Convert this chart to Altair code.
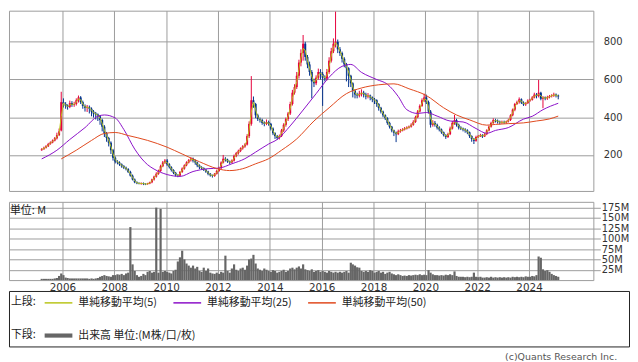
import altair as alt
import pandas as pd

# ---------------- data (monthly, 2005-03 .. 2025-02) ----------------
OPEN = [
    225, 230, 238, 246, 258, 266, 276, 288, 305, 330,
    480, 470, 460, 455, 475, 465, 470, 490, 505, 480, 460, 450,
    455, 445, 430, 420, 415, 405, 385, 350, 315, 290, 265, 225,
    185, 165, 160, 150, 140, 132, 125, 110, 90, 70, 55, 50,
    48, 50, 46, 45, 48, 55, 70, 85, 100, 115, 140, 160,
    170, 150, 135, 120, 105, 92, 90, 110, 128, 145, 160, 172,
    180, 170, 160, 145, 135, 130, 122, 112, 100, 92, 88, 100,
    115, 130, 160, 180, 175, 165, 160, 170, 195, 210, 222, 235,
    245, 255, 300, 365, 490, 470, 410, 390, 385, 370, 365, 375,
    365, 340, 315, 300, 290, 300, 330, 360, 390, 420, 470, 530,
    560, 620, 690, 740, 790, 720, 680, 640, 590, 580, 610, 640,
    630, 610, 605, 640, 700, 750, 790, 800, 760, 740, 710, 680,
    660, 620, 580, 540, 520, 515, 525, 530, 520, 510, 515, 505,
    495, 490, 470, 450, 430, 410, 395, 370, 350, 330, 318, 310,
    325, 330, 335, 340, 345, 350, 360, 375, 400, 430, 460, 490,
    505, 480, 430, 360, 370, 360, 345, 335, 320, 305, 295, 310,
    340, 370, 385, 360, 345, 340, 335, 330, 320, 300, 285, 275,
    295, 300, 305, 298, 310, 330, 350, 370, 385, 382, 376, 372,
    375, 372, 378, 385, 410, 440, 470, 480, 495, 478, 468, 475,
    488, 492, 505, 520, 512, 530, 498, 505, 500, 506, 512, 515,
    520, 515,
]
HIGH = [
    236, 244, 252, 264, 272, 282, 295, 318, 340, 535,
    500, 480, 468, 488, 485, 482, 500, 515, 512, 488, 468, 465,
    462, 452, 438, 428, 420, 412, 392, 358, 322, 296, 272, 232,
    192, 172, 166, 155, 146, 138, 130, 116, 96, 75, 60, 55,
    54, 54, 50, 52, 58, 74, 90, 108, 122, 148, 168, 178,
    178, 156, 140, 124, 110, 98, 114, 134, 150, 166, 178, 188,
    186, 176, 164, 150, 140, 134, 126, 116, 104, 96, 104, 122,
    138, 166, 200, 188, 180, 170, 176, 202, 216, 228, 240, 252,
    262, 310, 378, 618, 510, 476, 418, 398, 392, 378, 388, 382,
    370, 346, 320, 306, 308, 338, 368, 398, 428, 482, 545, 575,
    640, 705, 760, 836, 800, 730, 695, 650, 605, 622, 658, 655,
    640, 622, 656, 718, 768, 818, 960, 812, 772, 748, 718, 688,
    665, 625, 585, 548, 530, 540, 548, 540, 530, 528, 520, 510,
    502, 495, 475, 455, 435, 415, 400, 376, 354, 334, 324, 334,
    338, 342, 348, 352, 356, 368, 384, 408, 438, 468, 500, 525,
    520, 488, 438, 384, 380, 366, 352, 340, 324, 310, 318, 350,
    380, 412, 392, 366, 352, 345, 342, 336, 324, 304, 290, 302,
    306, 312, 310, 316, 336, 356, 376, 394, 392, 388, 382, 382,
    382, 382, 392, 416, 446, 476, 488, 505, 500, 484, 480, 495,
    498, 512, 530, 528, 598, 535, 512, 510, 514, 518, 522, 530,
    526, 520,
]
LOW = [
    222, 228, 234, 242, 254, 262, 272, 282, 300, 325,
    452, 445, 440, 448, 455, 455, 462, 478, 470, 445, 430, 428,
    420, 405, 398, 388, 380, 360, 325, 295, 270, 245, 205, 170,
    155, 150, 142, 132, 125, 118, 104, 85, 65, 50, 45, 44,
    42, 40, 40, 42, 45, 50, 64, 80, 95, 110, 135, 152,
    142, 128, 112, 98, 86, 82, 86, 105, 122, 140, 155, 165,
    160, 148, 135, 125, 122, 115, 105, 92, 85, 80, 84, 96,
    110, 125, 155, 165, 158, 152, 155, 165, 188, 202, 215, 228,
    238, 250, 290, 355, 450, 395, 380, 372, 360, 352, 358, 355,
    330, 305, 285, 280, 282, 295, 322, 350, 380, 412, 462, 520,
    550, 605, 670, 700, 700, 660, 620, 500, 560, 570, 600, 600,
    460, 590, 595, 630, 690, 740, 770, 740, 725, 690, 665, 590,
    560, 560, 505, 500, 500, 505, 510, 505, 495, 500, 490, 480,
    470, 455, 435, 420, 400, 385, 360, 340, 320, 300, 268, 305,
    318, 325, 330, 335, 340, 345, 355, 370, 395, 425, 455, 480,
    470, 420, 345, 350, 350, 335, 325, 312, 298, 285, 290, 305,
    335, 360, 350, 335, 332, 325, 318, 310, 290, 270, 258, 270,
    290, 295, 290, 295, 305, 325, 345, 365, 372, 366, 362, 365,
    365, 366, 372, 380, 405, 432, 465, 472, 470, 460, 460, 470,
    482, 488, 500, 500, 505, 490, 448, 490, 492, 500, 505, 508,
    505, 495,
]
CLOSE = [
    230, 238, 246, 258, 266, 276, 288, 305, 325, 480,
    470, 460, 455, 475, 465, 470, 490, 505, 480, 460, 450, 455,
    445, 430, 420, 415, 405, 385, 350, 315, 290, 265, 225, 185,
    165, 160, 150, 140, 132, 125, 110, 90, 70, 55, 50, 48,
    50, 46, 45, 48, 55, 70, 85, 100, 115, 140, 160, 170,
    150, 135, 120, 105, 92, 90, 110, 128, 145, 160, 172, 180,
    170, 160, 145, 135, 130, 122, 112, 100, 92, 88, 100, 115,
    130, 160, 180, 175, 165, 160, 170, 195, 210, 222, 235, 245,
    255, 300, 365, 490, 470, 410, 390, 385, 370, 365, 375, 365,
    340, 315, 300, 290, 300, 330, 360, 390, 420, 470, 530, 560,
    620, 690, 740, 790, 720, 680, 640, 590, 580, 610, 640, 630,
    610, 605, 640, 700, 750, 790, 800, 760, 740, 710, 680, 660,
    620, 580, 540, 520, 515, 525, 530, 520, 510, 515, 505, 495,
    490, 470, 450, 430, 410, 395, 370, 350, 330, 318, 310, 325,
    330, 335, 340, 345, 350, 360, 375, 400, 430, 460, 490, 505,
    480, 430, 360, 370, 360, 345, 335, 320, 305, 295, 310, 340,
    370, 385, 360, 345, 340, 335, 330, 320, 300, 285, 275, 295,
    300, 305, 298, 310, 330, 350, 370, 385, 382, 376, 372, 375,
    372, 378, 385, 410, 440, 470, 480, 495, 478, 468, 475, 488,
    492, 505, 520, 512, 530, 498, 505, 500, 506, 512, 515, 520,
    515, 510,
]
VOLUME = [  # million shares
    3, 3, 3, 3, 3, 3, 4, 5, 10, 16,
    12, 6, 5, 4, 4, 4, 4, 4, 4, 4, 4, 4,
    3, 4, 3, 4, 5, 8, 10, 12, 10, 9, 8, 12,
    12, 14, 13, 15, 12, 16, 18, 128, 38, 22, 12, 8,
    10, 15, 12, 20, 22, 18, 20, 175, 18, 172, 20, 22,
    20, 18, 16, 22, 25, 45, 55, 71, 50, 40, 35, 30,
    35, 28, 32, 22, 20, 30, 22, 28, 18, 16, 15, 18,
    15, 20, 18, 59, 22, 18, 28, 38, 25, 22, 28, 30,
    25, 35, 50, 52, 61, 40, 28, 25, 22, 28, 25, 22,
    20, 24, 22, 18, 20, 22, 25, 20, 22, 28, 30, 26,
    30, 33, 28, 38, 26, 24, 22, 26, 20, 22, 24, 20,
    22, 20, 18, 22, 20, 18, 20, 18, 20, 18, 20, 22,
    18, 42, 38, 35, 31, 30, 22, 20, 22, 20, 24, 22,
    18, 20, 22, 18, 20, 15, 18, 20, 16, 14, 12, 14,
    12, 10, 11, 10, 12, 11, 12, 13, 12, 14, 12, 13,
    12, 24, 18, 14, 12, 12, 11, 12, 11, 13, 12, 14,
    12, 21, 10, 8, 8, 8, 7, 8, 7, 8, 18, 8,
    7, 8, 6, 6, 7, 6, 8, 6, 7, 6, 7, 6,
    7, 6, 7, 6, 8, 7, 8, 7, 8, 7, 9, 8,
    8, 10, 9, 12, 57, 54, 26, 22, 24, 20, 15, 12,
    10, 8,
]

MA25_DATES = ["2005-03", "2005-10", "2006-04", "2006-11", "2007-05", "2007-08", "2008-01",
              "2008-05", "2008-10", "2009-04", "2009-07", "2010-01", "2010-07", "2011-01",
              "2011-08", "2012-01", "2012-07", "2013-01", "2013-06", "2013-12", "2014-04",
              "2014-10", "2015-04", "2015-10", "2016-04", "2016-10", "2017-02", "2017-07",
              "2018-02", "2018-07", "2018-12", "2019-04", "2019-09", "2020-01", "2020-06",
              "2020-12", "2021-06", "2021-12", "2022-05", "2022-09", "2023-03", "2023-10",
              "2024-02", "2024-07", "2025-02"]
MA25_VALUES = [179, 225, 282, 345, 405, 412, 396,
               335, 231, 148, 125, 96, 86, 112,
               127, 130, 153, 180, 215, 258, 282,
               354, 438, 525, 612, 670, 680, 638,
               600, 575, 510, 440, 420, 425, 406,
               380, 375, 340, 315, 330, 345, 390,
               405, 440, 474]

MA50_DATES = ["2005-12", "2006-07", "2007-02", "2007-08", "2008-01", "2008-07", "2009-04",
              "2010-01", "2010-08", "2011-04", "2011-12", "2012-06", "2012-12", "2013-06",
              "2013-12", "2014-06", "2015-01", "2015-09", "2016-04", "2016-12", "2017-07",
              "2018-03", "2018-10", "2019-05", "2020-01", "2020-09", "2021-03", "2021-09",
              "2022-05", "2022-09", "2023-03", "2023-10", "2024-04", "2024-10", "2025-02"]
MA50_VALUES = [179, 225, 277, 314, 319, 303, 277,
               241, 205, 164, 128, 117, 127, 153,
               180, 225, 285, 380, 450, 525, 555,
               572, 577, 551, 515, 450, 412, 386,
               358, 362, 366, 370, 380, 391, 406]

MA_LABELS = ["単純移動平均(5)", "単純移動平均(25)", "単純移動平均(50)"]
MA_COLORS = ["#b9c51a", "#8b10c8", "#e0481c"]
VOL_LABEL = "出来高 単位:(M株/口/枚)"
YEAR_TICKS = [2006, 2008, 2010, 2012, 2014, 2016, 2018, 2020, 2022, 2024]
PRICE_TICKS = [200, 400, 600, 800]
VOL_TICKS = [25, 50, 75, 100, 125, 150, 175]
CREDIT = "(c)Quants Research Inc."

assert len(OPEN) == len(HIGH) == len(LOW) == len(CLOSE) == len(VOLUME) == 240

dates = pd.date_range("2005-03-01", periods=240, freq="MS") + pd.Timedelta(days=14)
df = pd.DataFrame({"date": dates.strftime("%Y-%m-%d"), "open": OPEN, "high": HIGH,
                   "low": LOW, "close": CLOSE, "volume": VOLUME})

ma_df = pd.concat([
    pd.DataFrame({"date": [d + "-15" for d in MA25_DATES], "value": MA25_VALUES, "series": MA_LABELS[1]}),
    pd.DataFrame({"date": [d + "-15" for d in MA50_DATES], "value": MA50_VALUES, "series": MA_LABELS[2]}),
])

# ---------------- styling ----------------
UP = "#e6003c"
DOWN = "#00308c"
GRID = "#9c9c9c"
AXFONT = "DejaVu Sans"
CJK = "Noto Sans CJK JP"

xscale = alt.Scale(domain=[alt.DateTime(year=2003, month=12, date=10),
                           alt.DateTime(year=2026, month=6, date=25)], nice=False, padding=0)
year_vals = [alt.DateTime(year=y, month=1, date=1) for y in YEAR_TICKS]

x_price = alt.X("date:T", scale=xscale, title=None,
                axis=alt.Axis(values=year_vals, labels=False, ticks=False, domain=False,
                              grid=True, gridColor=GRID, gridOpacity=1))
y_price = alt.Y("low:Q", title=None,
                scale=alt.Scale(domain=[9, 965], nice=False, zero=False, padding=0),
                axis=alt.Axis(orient="right", values=PRICE_TICKS, ticks=False, domain=False,
                              grid=True, gridColor=GRID, gridOpacity=1, labelPadding=10,
                              labelFont=AXFONT, labelFontSize=10, labelColor="#333",
                              labelOverlap=False))

candle_color = alt.condition("datum.close >= datum.open", alt.value(UP), alt.value(DOWN))

base = alt.Chart(df)
wick = base.mark_rule(strokeWidth=1).encode(x=x_price, y=y_price, y2="high:Q", color=candle_color)
body = base.mark_bar(size=2).encode(x="date:T", y="open:Q", y2="close:Q", color=candle_color)

# legend symbols: a 14px symbol box with a 28px-wide drawn shape
legend_common = dict(orient="none", legendX=2, direction="horizontal", titleOrient="left",
                     titleAnchor="middle", titleBaseline="middle", symbolSize=196,
                     labelFont=CJK, labelFontSize=11, labelColor="#222",
                     titleFont=CJK, titleFontSize=11, titleFontWeight="normal",
                     titleColor="#222", labelOffset=12, titlePadding=14, padding=0)

stroke_enc = alt.Stroke(
    "series:N",
    scale=alt.Scale(domain=MA_LABELS, range=MA_COLORS),
    legend=alt.Legend(title="上段:", legendY=287, symbolType="M-2,0H2",
                      symbolStrokeWidth=1.5, columnPadding=13, **legend_common),
)

ma5 = base.transform_window(
    ma5="mean(close)", frame=[-1, 0], sort=[alt.SortField("date")]
).transform_calculate(series=f"'{MA_LABELS[0]}'").mark_line(strokeWidth=1).encode(
    x="date:T", y="ma5:Q", stroke=stroke_enc)

ma_lines = alt.Chart(ma_df).mark_line(strokeWidth=1, interpolate="monotone").encode(
    x="date:T", y="value:Q", stroke=stroke_enc)

price = alt.layer(wick, body, ma5, ma_lines).properties(width=590, height=182)

vol = alt.Chart(df).transform_calculate(series=f"'{VOL_LABEL}'").mark_bar(size=2.2).encode(
    x=alt.X("date:T", scale=xscale, title=None,
            axis=alt.Axis(values=year_vals, format="%Y", ticks=False, domain=False,
                          grid=True, gridColor=GRID, gridOpacity=1, labelPadding=3,
                          labelFont=AXFONT, labelFontSize=10.5, labelColor="#333",
                          labelOverlap=False)),
    y=alt.Y("volume:Q", title=None, scale=alt.Scale(domain=[0, 189], nice=False, padding=0),
            axis=alt.Axis(orient="right", values=VOL_TICKS, labelExpr="datum.value + 'M'",
                          tickSize=7, tickColor=GRID, domain=False, grid=True,
                          gridColor=GRID, gridOpacity=1, labelPadding=1,
                          labelFont=AXFONT, labelFontSize=10, labelColor="#333",
                          labelOverlap=False)),
    fill=alt.Fill("series:N", scale=alt.Scale(domain=[VOL_LABEL], range=["#666666"]),
                  legend=alt.Legend(title="下段:", legendY=320,
                                    symbolType="M-2,-0.3H2V0.3H-2Z", **legend_common)),
).properties(width=590, height=79,
             title=alt.TitleParams("単位: M", anchor="start", orient="top", offset=0,
                                   baseline="top", dy=14, dx=1, font=CJK, fontSize=11,
                                   fontWeight="normal", color="#222"))

box = alt.Chart(pd.DataFrame({"t": [CREDIT]})).mark_text(opacity=0).encode(text="t:N").properties(
    width=626, height=56, view=alt.ViewBackground(stroke="#222"),
    title=alt.TitleParams(CREDIT, orient="bottom", anchor="end", font=AXFONT, fontSize=9.5,
                          fontWeight="normal", color="#555", offset=6, dx=-12))

chart = alt.vconcat(price, vol, box, spacing=11, bounds="flush", padding=0).configure_view(
    stroke=GRID)

chart.save("out.html", embed_options={"renderer": "svg", "actions": False})
